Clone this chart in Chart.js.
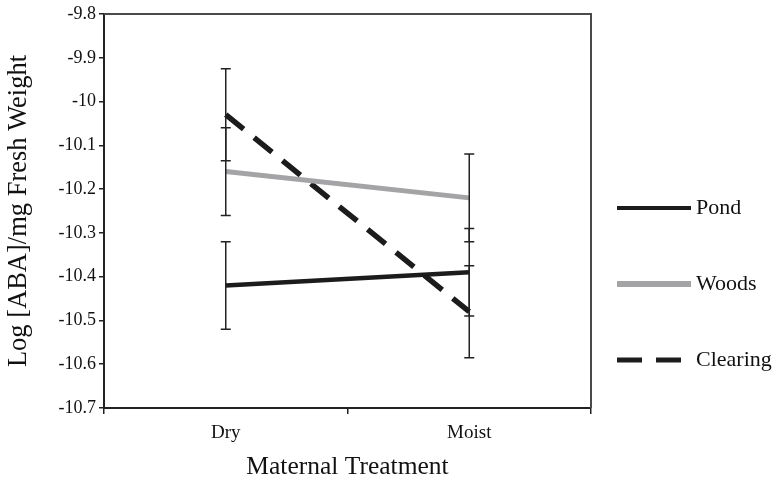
<!DOCTYPE html>
<html>
<head>
<meta charset="utf-8">
<title>Log ABA by maternal treatment</title>
<script src="https://cdn.jsdelivr.net/npm/chart.js@4"></script>
<style>
  html, body { margin: 0; padding: 0; background: #fff; }
  #chart { display: block; }
</style>
</head>
<body>
<canvas id="chart" width="775" height="485"></canvas>
<script>
// values
const categories = ["Dry", "Moist"];
const seriesNames = ["Pond", "Woods", "Clearing"];

const pondValues = [-10.42, -10.39];
const woodsValues = [-10.16, -10.22];
const clearingValues = [-10.03, -10.48];

// half length of each error bar
const pondErrors = [0.10, 0.10];
const woodsErrors = [0.10, 0.10];
const clearingErrors = [0.105, 0.105];

const yTickValues = [-9.8, -9.9, -10, -10.1, -10.2, -10.3, -10.4, -10.5, -10.6, -10.7];

const serif = "'Liberation Serif', 'Times New Roman', serif";
const inkDark = "#1c1c1c";
const inkGray = "#a4a4a6";

// error bars + frame on top/right
const errorBarPlugin = {
  id: "errorBars",
  afterDatasetsDraw(chart) {
    const ctx = chart.ctx;
    const yScale = chart.scales.y;
    const area = chart.chartArea;

    ctx.save();
    ctx.strokeStyle = "#4a4a4a";
    ctx.lineWidth = 2;
    ctx.beginPath();
    ctx.moveTo(area.left, area.top);
    ctx.lineTo(area.right, area.top);
    ctx.lineTo(area.right, area.bottom);
    ctx.stroke();

    ctx.strokeStyle = "#222";
    ctx.lineWidth = 1.5;
    chart.data.datasets.forEach((ds, i) => {
      const meta = chart.getDatasetMeta(i);
      meta.data.forEach((pt, j) => {
        const err = ds.errorBars[j];
        const top = yScale.getPixelForValue(ds.data[j] + err);
        const bot = yScale.getPixelForValue(ds.data[j] - err);
        ctx.beginPath();
        ctx.moveTo(pt.x, top);
        ctx.lineTo(pt.x, bot);
        ctx.moveTo(pt.x - 5, top);
        ctx.lineTo(pt.x + 5, top);
        ctx.moveTo(pt.x - 5, bot);
        ctx.lineTo(pt.x + 5, bot);
        ctx.stroke();
      });
    });
    ctx.restore();
  }
};

// legend to the right of the plot
const sideLegendPlugin = {
  id: "sideLegend",
  afterDraw(chart) {
    const ctx = chart.ctx;
    const area = chart.chartArea;
    const rowY = [208, 284, 360];
    const legendWidths = [4, 6, 5];
    ctx.save();
    ctx.font = "22px " + serif;
    ctx.textBaseline = "middle";
    ctx.fillStyle = "#111";
    chart.data.datasets.forEach((ds, i) => {
      const y = rowY[i];
      const x0 = area.right + 26;
      const x1 = area.right + 100;
      ctx.strokeStyle = ds.borderColor;
      ctx.lineWidth = legendWidths[i];
      ctx.setLineDash(ds.borderDash ? [25, 14] : []);
      ctx.beginPath();
      ctx.moveTo(x0, y);
      ctx.lineTo(x1, y);
      ctx.stroke();
      ctx.setLineDash([]);
      ctx.fillText(ds.label, x1 + 5, y);
    });
    ctx.restore();
  }
};

new Chart(document.getElementById("chart"), {
  type: "line",
  data: {
    labels: categories,
    datasets: [
      {
        label: seriesNames[0],
        data: pondValues,
        errorBars: pondErrors,
        borderColor: inkDark,
        borderWidth: 4.5
      },
      {
        label: seriesNames[1],
        data: woodsValues,
        errorBars: woodsErrors,
        borderColor: inkGray,
        borderWidth: 5
      },
      {
        label: seriesNames[2],
        data: clearingValues,
        errorBars: clearingErrors,
        borderColor: inkDark,
        borderWidth: 5.5,
        borderDash: [23, 13.5]
      }
    ]
  },
  options: {
    responsive: false,
    animation: false,
    layout: { padding: { left: 0, top: 14, right: 184, bottom: 0 } },
    elements: {
      point: { radius: 0, hoverRadius: 0 },
      line: { tension: 0, fill: false, borderCapStyle: "butt" }
    },
    plugins: {
      legend: { display: false },
      tooltip: { enabled: false }
    },
    scales: {
      x: {
        offset: true,
        afterFit(scale) { scale.height = 77; },
        border: { display: true, color: "#222", width: 2 },
        grid: { offset: true, drawOnChartArea: false, drawTicks: true, tickLength: 6, color: "#222", lineWidth: 1.5 },
        ticks: { color: "#111", font: { family: serif, size: 19 }, padding: 8, maxRotation: 0 },
        title: {
          display: true,
          text: "Maternal Treatment",
          color: "#111",
          font: { family: serif, size: 25.5 },
          padding: { top: 0, bottom: 2 }
        }
      },
      y: {
        min: -10.7,
        max: -9.8,
        afterFit(scale) { scale.width = 104; },
        afterBuildTicks(scale) {
          scale.ticks = yTickValues.map(v => ({ value: v }));
        },
        border: { display: true, color: "#222", width: 2 },
        grid: { drawOnChartArea: false, drawTicks: true, tickLength: 5, color: "#222", lineWidth: 1.5 },
        ticks: {
          color: "#111",
          font: { family: serif, size: 18 },
          padding: 3,
          callback: v => String(Math.round(v * 10) / 10)
        },
        title: {
          display: true,
          text: "Log [ABA]/mg Fresh Weight",
          color: "#111",
          font: { family: serif, size: 26.5 },
          padding: { top: 3, bottom: 0 }
        }
      }
    }
  },
  plugins: [errorBarPlugin, sideLegendPlugin]
});
</script>
</body>
</html>
